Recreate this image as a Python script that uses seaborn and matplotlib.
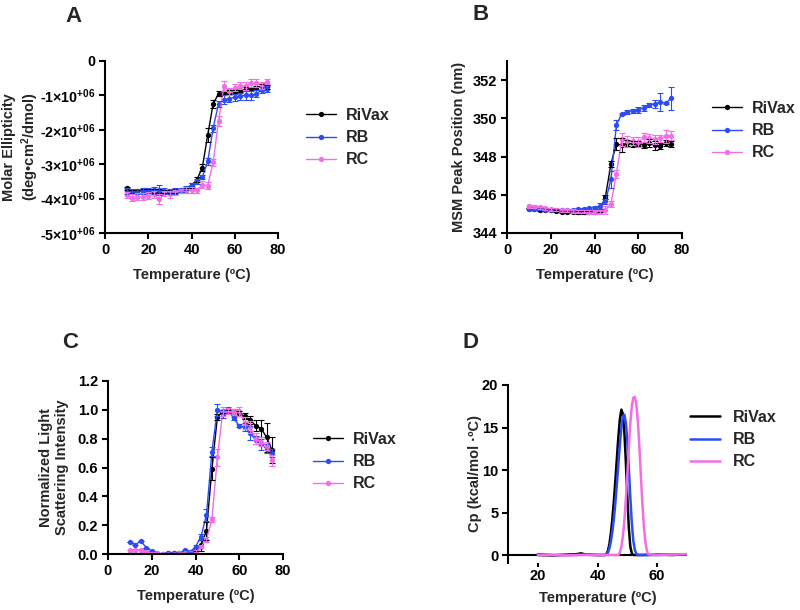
import numpy as np
import pandas as pd
import matplotlib
matplotlib.use("Agg")
import matplotlib.pyplot as plt
import seaborn as sns

sns.set_style("ticks")
plt.rcParams['font.family'] = ['Liberation Sans', 'DejaVu Sans']
plt.rcParams['font.weight'] = 'bold'
plt.rcParams['mathtext.fontset'] = 'custom'
plt.rcParams['mathtext.bf'] = 'Liberation Sans:bold'
plt.rcParams['mathtext.rm'] = 'Liberation Sans:bold'
plt.rcParams['mathtext.default'] = 'bf'

series = ["RiVax", "RB", "RC"]
colors = {"RiVax": "#000000", "RB": "#2b4cf5", "RC": "#f46ce6"}

temp = [10, 12.5, 15, 17.5, 20, 22.5, 25, 27.5, 30, 32.5, 35, 37.5, 40, 42.5,
        45, 47.5, 50, 52.5, 55, 57.5, 60, 62.5, 65, 67.5, 70, 72.5, 75]

# Panel A: molar ellipticity (x 1e6 deg cm2/dmol)
a_rivax = [-3.70, -3.80, -3.79, -3.78, -3.77, -3.78, -3.80, -3.80, -3.80, -3.78, -3.77, -3.76, -3.62, -3.45,
           -3.10, -2.15, -1.25, -0.95, -0.93, -0.90, -0.88, -0.85, -0.82, -0.80, -0.78, -0.74, -0.76]
a_rb = [-3.78, -3.80, -3.79, -3.78, -3.77, -3.76, -3.75, -3.78, -3.80, -3.78, -3.76, -3.70, -3.60, -3.50,
        -3.38, -2.92, -1.95, -1.25, -1.12, -1.10, -1.05, -1.02, -1.00, -1.00, -0.95, -0.85, -0.82]
a_rc = [-3.90, -3.97, -3.95, -3.95, -3.92, -3.88, -4.02, -3.85, -3.87, -3.82, -3.78, -3.75, -3.75, -3.76,
        -3.60, -3.62, -2.95, -1.75, -0.72, -0.88, -0.78, -0.72, -0.72, -0.65, -0.65, -0.70, -0.60]
a_err_rivax = [0.05, 0.05, 0.05, 0.05, 0.05, 0.05, 0.08, 0.05, 0.05, 0.05, 0.05, 0.08, 0.06, 0.08,
               0.10, 0.20, 0.12, 0.08, 0.05, 0.05, 0.05, 0.05, 0.05, 0.05, 0.05, 0.06, 0.06]
a_err_rb = [0.08, 0.08, 0.08, 0.08, 0.08, 0.10, 0.15, 0.10, 0.08, 0.08, 0.06, 0.06, 0.06, 0.08,
            0.06, 0.10, 0.10, 0.10, 0.12, 0.10, 0.10, 0.10, 0.12, 0.12, 0.10, 0.08, 0.08]
a_err_rc = [0.08, 0.10, 0.10, 0.10, 0.10, 0.10, 0.14, 0.08, 0.10, 0.08, 0.06, 0.08, 0.08, 0.08,
            0.10, 0.10, 0.10, 0.15, 0.15, 0.10, 0.10, 0.10, 0.12, 0.12, 0.12, 0.10, 0.08]

# Panel B: MSM peak position (nm)
b_rivax = [345.28, 345.26, 345.22, 345.20, 345.18, 345.15, 345.12, 345.10, 345.08, 345.08, 345.08, 345.08, 345.10, 345.20,
           345.90, 347.60, 348.66, 348.60, 348.70, 348.65, 348.68, 348.62, 348.72, 348.58, 348.55, 348.70, 348.65]
b_rb = [345.28, 345.26, 345.25, 345.22, 345.20, 345.20, 345.20, 345.20, 345.22, 345.24, 345.26, 345.30, 345.32, 345.40,
        345.65, 346.80, 349.65, 350.25, 350.35, 350.40, 350.45, 350.55, 350.70, 350.75, 350.85, 350.80, 351.05]
b_rc = [345.40, 345.38, 345.35, 345.30, 345.25, 345.22, 345.20, 345.18, 345.15, 345.12, 345.12, 345.10, 345.10, 345.12,
        345.22, 345.50, 347.10, 348.90, 348.80, 348.80, 348.75, 349.00, 348.95, 348.90, 348.95, 349.05, 349.10]
b_err_rivax = [0.05, 0.05, 0.05, 0.05, 0.05, 0.05, 0.05, 0.05, 0.05, 0.08, 0.08, 0.08, 0.08, 0.08,
               0.10, 0.15, 0.30, 0.35, 0.15, 0.15, 0.15, 0.15, 0.20, 0.25, 0.15, 0.15, 0.15]
b_err_rb = [0.05, 0.05, 0.05, 0.05, 0.05, 0.05, 0.05, 0.05, 0.05, 0.05, 0.05, 0.05, 0.08, 0.15,
            0.15, 0.45, 0.25, 0.05, 0.10, 0.10, 0.15, 0.15, 0.10, 0.20, 0.45, 0.05, 0.60]
b_err_rc = [0.08, 0.08, 0.08, 0.08, 0.08, 0.08, 0.08, 0.08, 0.08, 0.08, 0.08, 0.08, 0.08, 0.10,
            0.20, 0.15, 0.20, 0.35, 0.30, 0.20, 0.25, 0.25, 0.25, 0.25, 0.20, 0.35, 0.25]

# Panel C: normalized light scattering intensity
c_rivax = [0.0, 0.0, 0.0, 0.0, 0.0, 0.0, 0.0, 0.005, 0.005, 0.005, 0.005, 0.01, 0.03, 0.06,
           0.16, 0.59, 0.95, 0.99, 0.99, 0.985, 0.975, 0.955, 0.93, 0.89, 0.87, 0.81, 0.72]
c_rb = [0.08, 0.065, 0.09, 0.045, 0.02, 0.005, 0.0, 0.005, 0.01, 0.005, 0.025, 0.015, 0.05, 0.12,
        0.27, 0.71, 1.0, 0.97, 1.0, 0.94, 0.89, 0.88, 0.84, 0.79, 0.76, 0.73, 0.70]
c_rc = [0.03, 0.03, 0.03, 0.015, 0.01, 0.005, 0.0, 0.0, 0.0, 0.005, 0.01, 0.01, 0.02, 0.05,
        0.10, 0.24, 0.67, 0.99, 0.99, 0.985, 0.99, 0.91, 0.88, 0.80, 0.78, 0.75, 0.65]
c_err_rivax = [0.0, 0.0, 0.0, 0.0, 0.0, 0.0, 0.0, 0.0, 0.0, 0.0, 0.0, 0.005, 0.01, 0.04,
               0.06, 0.08, 0.02, 0.01, 0.01, 0.02, 0.02, 0.02, 0.03, 0.04, 0.06, 0.10, 0.09]
c_err_rb = [0.0, 0.0, 0.0, 0.0, 0.0, 0.0, 0.0, 0.0, 0.0, 0.0, 0.0, 0.0, 0.01, 0.02,
            0.04, 0.03, 0.04, 0.03, 0.02, 0.01, 0.01, 0.03, 0.05, 0.03, 0.04, 0.03, 0.03]
c_err_rc = [0.0, 0.0, 0.0, 0.0, 0.0, 0.0, 0.0, 0.0, 0.0, 0.0, 0.0, 0.0, 0.01, 0.01,
            0.02, 0.02, 0.06, 0.03, 0.02, 0.02, 0.03, 0.04, 0.04, 0.04, 0.03, 0.03, 0.04]

# Panel D: DSC heat capacity
d_t_rivax = [20, 25, 30, 33, 34.5, 36, 40, 42.5, 43, 43.5, 44, 44.5, 45, 45.5, 46, 46.5, 47, 47.5,
             48, 48.5, 49, 49.5, 50, 50.5, 51, 51.5, 52, 55, 60, 65, 70]
d_cp_rivax = [0.0, -0.05, 0.05, 0.1, 0.2, 0.05, 0.0, 0.0, 0.1, 0.5, 1.3, 2.6, 4.3, 6.4, 8.8, 11.4, 13.9, 16.0,
              17.1, 16.6, 14.5, 11.0, 6.8, 3.2, 1.0, 0.2, 0.0, 0.0, 0.05, 0.0, 0.1]
d_t_rb = [20, 25, 30, 35, 40, 42.5, 43, 43.5, 44, 44.5, 45, 45.5, 46, 46.5, 47, 47.5, 48, 48.5,
          49, 49.5, 50, 50.5, 51, 51.5, 52, 52.5, 53, 53.5, 55, 60, 65, 70]
d_cp_rb = [0.1, 0.0, 0.0, 0.05, 0.0, 0.0, 0.05, 0.3, 0.8, 1.6, 2.8, 4.3, 6.2, 8.4, 10.7, 13.0, 15.0, 16.3,
           16.5, 15.6, 13.4, 10.2, 6.8, 3.8, 1.7, 0.6, 0.15, 0.0, 0.0, 0.0, 0.05, 0.1]
d_t_rc = [20, 25, 30, 35, 40, 45, 47, 47.5, 48, 48.5, 49, 49.5, 50, 50.5, 51, 51.5, 52, 52.5,
          53, 53.5, 54, 54.5, 55, 55.5, 56, 56.5, 57, 60, 65, 70]
d_cp_rc = [0.0, 0.0, -0.05, 0.0, 0.0, 0.0, 0.0, 0.3, 1.0, 2.2, 4.0, 6.5, 9.5, 12.7, 15.5, 17.5, 18.5, 18.6,
           17.8, 15.9, 13.0, 9.6, 6.3, 3.6, 1.7, 0.6, 0.1, 0.0, 0.05, 0.1]

W, H = 800, 610
fig = plt.figure(figsize=(8, 6.1), dpi=100)


def add_ax(left, top, right, bottom):
    return fig.add_axes([left / W, 1 - bottom / H, (right - left) / W, (bottom - top) / H])


axA = add_ax(105, 61, 278, 233)
axB = add_ax(507, 61, 682, 233)
axC = add_ax(108, 381, 283, 554)
axD = add_ax(508, 385, 687, 563)

TICK_FS = 10.5
LAB_FS = 10.5
LEG_FS = 11.5


def style(ax, length=4, pad=3):
    sns.despine(ax=ax)
    for s in ("left", "bottom"):
        ax.spines[s].set_linewidth(1.5)
        ax.spines[s].set_color("black")
    ax.tick_params(axis="both", direction="out", length=length, width=1.5, labelsize=TICK_FS,
                   colors="black", pad=pad)
    for lab in ax.get_xticklabels() + ax.get_yticklabels():
        lab.set_fontweight("bold")


def make_legend(ax, pos, handletextpad=0.6):
    leg = ax.legend(loc="upper left", bbox_to_anchor=pos, bbox_transform=fig.transFigure,
                    frameon=False, fontsize=LEG_FS, handlelength=1.9, handletextpad=handletextpad,
                    labelspacing=0.45, borderaxespad=0, borderpad=0)
    for t in leg.get_texts():
        t.set_fontweight("bold")
    return leg


def panel_points(ax, vals, errs, legend_pos):
    rows = []
    for name, v in zip(series, vals):
        for t, y in zip(temp, v):
            rows.append({"T": t, "v": y, "series": name})
    df = pd.DataFrame(rows)
    sns.lineplot(data=df, x="T", y="v", hue="series", hue_order=series, palette=colors,
                 marker="o", markersize=3.8, markeredgewidth=0, linewidth=1.0, ax=ax, legend=True)
    for name, v, e in zip(series, vals, errs):
        ax.errorbar(temp, v, yerr=e, fmt="none", ecolor=colors[name], elinewidth=0.8,
                    capsize=2, capthick=0.8)
    make_legend(ax, legend_pos)


def place_ylabel(ax, right_px, left_ax_px, width_px):
    ax.yaxis.set_label_coords((right_px - left_ax_px) / width_px, 0.5)


# Panel A
panel_points(axA, [a_rivax, a_rb, a_rc], [a_err_rivax, a_err_rb, a_err_rc], (306 / W, 1 - 108 / H))
axA.set_xlim(0, 80)
axA.set_ylim(-5, 0)
axA.set_xticks([0, 20, 40, 60, 80])
axA.set_yticks([0, -1, -2, -3, -4, -5])
axA.set_yticklabels(["0"] + [f"-{k}×10$^{{+06}}$" for k in range(1, 6)])
axA.set_xlabel("Temperature (ºC)", fontsize=LAB_FS, fontweight="bold", labelpad=8)
axA.set_ylabel("Molar Ellipticity\n(deg•cm$^2$/dmol)", fontsize=LAB_FS, fontweight="bold")
style(axA)
axA.tick_params(axis="y", labelsize=10.3)
place_ylabel(axA, 41, 105, 173)

# Panel B
panel_points(axB, [b_rivax, b_rb, b_rc], [b_err_rivax, b_err_rb, b_err_rc], (712 / W, 1 - 101 / H))
axB.set_xlim(0, 80)
axB.set_ylim(344, 353)
axB.set_xticks([0, 20, 40, 60, 80])
axB.set_yticks([344, 346, 348, 350, 352])
axB.set_xlabel("Temperature (ºC)", fontsize=LAB_FS, fontweight="bold", labelpad=8)
axB.set_ylabel("MSM Peak Position (nm)", fontsize=LAB_FS, fontweight="bold")
style(axB)
place_ylabel(axB, 466, 507, 175)

# Panel C
panel_points(axC, [c_rivax, c_rb, c_rc], [c_err_rivax, c_err_rb, c_err_rc], (313 / W, 1 - 432 / H))
axC.set_xlim(0, 80)
axC.set_ylim(0, 1.2)
axC.set_xticks([0, 20, 40, 60, 80])
axC.set_yticks([0, 0.2, 0.4, 0.6, 0.8, 1.0, 1.2])
axC.set_yticklabels(["0.0", "0.2", "0.4", "0.6", "0.8", "1.0", "1.2"])
axC.set_xlabel("Temperature (ºC)", fontsize=LAB_FS, fontweight="bold", labelpad=8)
axC.set_ylabel("Normalized Light\nScattering Intensity", fontsize=LAB_FS, fontweight="bold")
style(axC)
place_ylabel(axC, 69, 108, 175)

# Panel D
rowsD = []
for name, ts, cps in zip(series, [d_t_rivax, d_t_rb, d_t_rc], [d_cp_rivax, d_cp_rb, d_cp_rc]):
    for t, c in zip(ts, cps):
        rowsD.append({"T": t, "Cp": c, "series": name})
dfD = pd.DataFrame(rowsD)
axD.axhline(0, color="black", linewidth=1.5, zorder=1)
sns.lineplot(data=dfD, x="T", y="Cp", hue="series", hue_order=series, palette=colors,
             linewidth=1.8, ax=axD, legend=True, sort=True, zorder=2)
make_legend(axD, (690 / W, 1 - 410 / H), handletextpad=0.8)
axD.set_xlim(10, 70)
axD.set_ylim(-0.94, 20)
axD.set_xticks([20, 40, 60])
axD.set_yticks([0, 5, 10, 15, 20])
axD.set_xlabel("Temperature (ºC)", fontsize=LAB_FS, fontweight="bold", labelpad=6)
axD.set_ylabel("Cp (kcal/mol ·ºC)", fontsize=LAB_FS, fontweight="bold")
style(axD)
axD.tick_params(axis="x", length=3, pad=1)
axD.spines["bottom"].set_visible(False)
place_ylabel(axD, 482, 508, 179)

# Panel letters
for letter, x, y in [("A", 73, 17), ("B", 481, 15), ("C", 70, 343), ("D", 470, 343)]:
    fig.text(x / W, 1 - y / H, letter, fontsize=16, fontweight="bold", ha="center", va="center")

fig.savefig("out.png", dpi=100)
